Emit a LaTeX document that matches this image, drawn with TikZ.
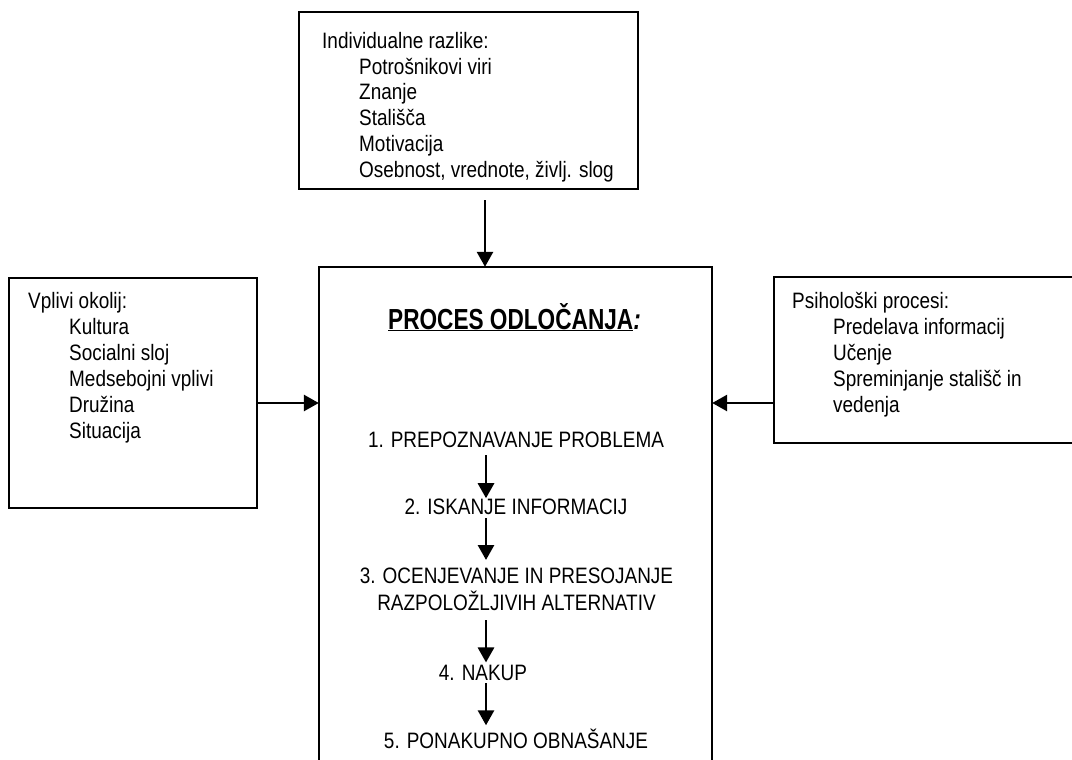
\documentclass[tikz,border=0pt]{standalone}
\usepackage{fontspec}
\setmainfont{Liberation Sans}[FakeStretch=0.85]
\newfontfamily\titlefont{Liberation Sans}[FakeStretch=0.78]
\usetikzlibrary{arrows.meta,calc}
\begin{document}
\begin{tikzpicture}[x=1pt,y=-1pt,
  boxline/.style={line width=2pt,line join=miter},
  boxnode/.style={draw,boxline,inner sep=0pt,minimum width=#1},
  area/.style={inner sep=0pt},
  listtxt/.style={inner sep=0pt,anchor=north west,align=left,font=\fontsize{22.3}{26}\selectfont},
  steptxt/.style={inner sep=0pt,align=center,font=\fontsize{22.3}{27}\selectfont},
  arr/.style={line width=2.8pt,-{Triangle[length=15pt,width=16pt]}}]
\useasboundingbox (0,0) rectangle (1072,760);

% boxes
\node[boxnode=339pt,minimum height=177pt] (indiv) at (468.5,100.5) {};
\node[boxnode=248pt,minimum height=230pt] (env) at (133,393) {};
\node[area,minimum width=298pt,minimum height=166pt] (psy) at (923,360) {};
\draw[boxline] (psy.north east) -- (psy.north west) -- (psy.south west) -- (psy.south east);
\node[area,minimum width=393pt,minimum height=493pt] (proc) at (515.5,513.5) {};
\draw[boxline] (proc.south west) -- (proc.north west) -- (proc.north east) -- (proc.south east);

% box texts
\node[listtxt,font=\fontsize{22.3}{25.8}\selectfont] (indivtxt) at (322,32)
  {Individualne razlike:\\
   \hspace*{37pt}Potrošnikovi viri\\
   \hspace*{37pt}Znanje\\
   \hspace*{37pt}Stališča\\
   \hspace*{37pt}Motivacija\\
   \hspace*{37pt}Osebnost, vrednote, življ. slog};
\node[listtxt] (envtxt) at (28,292)
  {Vplivi okolij:\\
   \hspace*{41pt}Kultura\\
   \hspace*{41pt}Socialni sloj\\
   \hspace*{41pt}Medsebojni vplivi\\
   \hspace*{41pt}Družina\\
   \hspace*{41pt}Situacija};
\node[listtxt] (psytxt) at (792,292)
  {Psihološki procesi:\\
   \hspace*{41pt}Predelava informacij\\
   \hspace*{41pt}Učenje\\
   \hspace*{41pt}Spreminjanje stališč in\\
   \hspace*{41pt}vedenja};

% title and steps
\node[inner sep=0pt,anchor=base] (title) at (514.5,329)
  {\titlefont\bfseries\fontsize{29}{32}\selectfont\underline{PROCES ODLOČANJA}\textit{:}};
\node[steptxt,anchor=base] (s1) at (516,447) {1. PREPOZNAVANJE PROBLEMA};
\node[steptxt,anchor=base] (s2) at (516,514) {2. ISKANJE INFORMACIJ};
\node[steptxt,anchor=north] (s3) at (516.5,568) {3. OCENJEVANJE IN PRESOJANJE\\RAZPOLOŽLJIVIH ALTERNATIV};
\node[steptxt,anchor=base] (s4) at (483,680) {4. NAKUP};
\node[steptxt,anchor=base] (s5) at (516,748) {5. PONAKUPNO OBNAŠANJE};

% connectors
\coordinate (ax) at (486,0);
\coordinate (topstart) at (485,200);
\coordinate (midy) at (0,403);
\draw[arr] (topstart) -- (topstart |- proc.north);
\draw[arr] (env.east |- midy) -- (proc.west |- midy);
\draw[arr] (psy.west |- midy) -- (proc.east |- midy);
\draw[arr,shorten <=8pt] (s1.south -| ax) -- (s2.north -| ax);
\draw[arr,shorten <=4pt,shorten >=8pt] (s2.south -| ax) -- (s3.north -| ax);
\draw[arr,shorten <=9pt,shorten >=2pt] (s3.south -| ax) -- (s4.north -| ax);
\draw[arr,shorten <=3pt,shorten >=3pt] (s4.south -| ax) -- (s5.north -| ax);
\end{tikzpicture}
\end{document}
